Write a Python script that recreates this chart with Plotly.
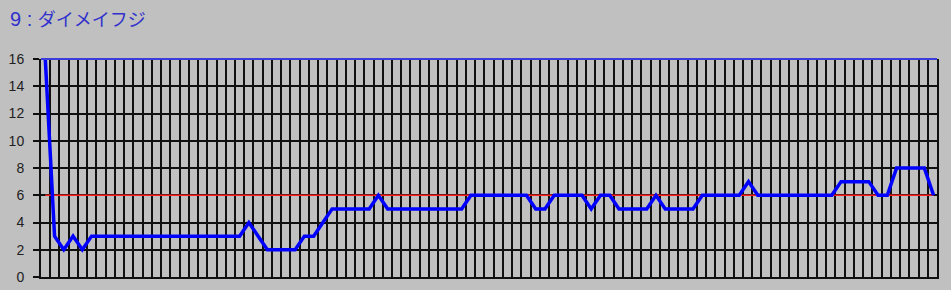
import plotly.graph_objects as go

title_num = "9 : "
title_name = "ダイメイフジ"
races = list(range(97))
values = [16, 3, 2, 3, 2] + [3] * 17 + [4, 3] + [2] * 4 + [3] * 2 + [4] + [5] * 5 + [6] \
    + [5] * 9 + [6] * 7 + [5] * 2 + [6] * 4 + [5] + [6] * 2 + [5] * 4 + [6] + [5] * 4 \
    + [6] * 5 + [7] + [6] * 9 + [7] * 4 + [6] * 2 + [8] * 4 + [6]
baseline = [6] * len(races)
y_ticks = [0, 2, 4, 6, 8, 10, 12, 14, 16]

x_left, x_right = -0.465, 96.37
n_cols = 97
grid_x = [x_left + i * (x_right - x_left) / n_cols for i in range(n_cols + 1)]

fig = go.Figure()
fig.add_trace(go.Scatter(x=races, y=baseline, mode="lines",
                         line=dict(color="#ff2020", width=1.6), hoverinfo="skip"))
fig.add_trace(go.Scatter(x=races, y=values, mode="lines",
                         line=dict(color="#0000ff", width=3.5), cliponaxis=True))

fig.add_shape(type="line", xref="paper", yref="paper", x0=0, x1=1, y0=1, y1=1,
              line=dict(color="#3c3cdc", width=2), layer="above")

title_html = (f"<span style='font-family:Liberation Sans;font-size:20px'>{title_num}</span>"
              f"{title_name}")

fig.update_layout(
    width=951, height=290,
    margin=dict(l=41, r=14, t=59, b=13),
    paper_bgcolor="#c0c0c0", plot_bgcolor="#c0c0c0",
    showlegend=False,
    font=dict(family="Liberation Sans, Arial, sans-serif", size=14, color="#202020"),
    annotations=[dict(text=title_html, xref="paper", yref="paper",
                      x=-33 / 896, y=1 + 41 / 218, xanchor="left", yanchor="middle",
                      showarrow=False,
                      font=dict(family="Noto Sans CJK JP", size=18, color="#3030cc"))],
)
fig.update_xaxes(range=[x_left, x_right], tickvals=grid_x, showticklabels=False,
                 ticks="", showgrid=True, gridcolor="#101010", gridwidth=1.6,
                 zeroline=False, showline=True, linecolor="#101010", linewidth=2,
                 automargin=False)
fig.update_yaxes(range=[0, 16], tickvals=y_ticks, ticks="outside", ticklen=6,
                 tickcolor="#101010", tickwidth=1.6, ticklabelstandoff=6,
                 showgrid=True, gridcolor="#101010", gridwidth=1.6, zeroline=False,
                 showline=True, mirror=True, linecolor="#101010", linewidth=2,
                 automargin=False)

fig.write_html("out.html")
